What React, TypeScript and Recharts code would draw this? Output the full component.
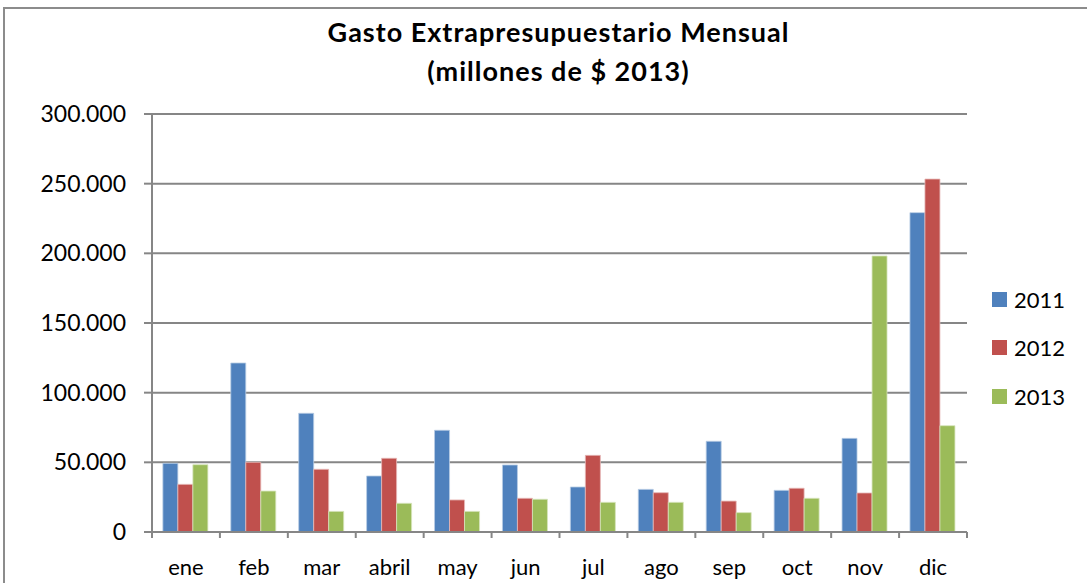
import React from "react";
import { BarChart, Bar, XAxis, YAxis, CartesianGrid } from "recharts";

const months = ["ene", "feb", "mar", "abril", "may", "jun", "jul", "ago", "sep", "oct", "nov", "dic"];
const s2011 = [49300, 121300, 85200, 40200, 73000, 48100, 32300, 30600, 65100, 29900, 67200, 229200];
const s2012 = [34200, 50000, 45000, 52900, 23000, 24200, 55000, 28200, 22200, 31400, 28000, 253300];
const s2013 = [48300, 29400, 14800, 20600, 14800, 23500, 21300, 21300, 13900, 24200, 198100, 76300];
const yTicks = [0, 50000, 100000, 150000, 200000, 250000, 300000];
const seriesNames = ["2011", "2012", "2013"];
const colors = ["#4F81BD", "#C0504D", "#9BBB59"];

const data = months.map((m, i) => ({ m, a: s2011[i], b: s2012[i], c: s2013[i] }));

const FONT = "Lato, 'Open Sans', sans-serif";
const fmt = (v: number) => (v === 0 ? "0" : v.toLocaleString("de-DE", { minimumFractionDigits: 0 }).replace(/,/g, "."));

const PLOT_LEFT = 152;
const PLOT_RIGHT = 967;
const HALF_BAND = (PLOT_RIGHT - PLOT_LEFT) / months.length / 2;

const XTick = (props: any) => {
  const { x, y, payload, index } = props;
  const isLast = index === months.length - 1;
  return (
    <g>
      <line x1={x - HALF_BAND} x2={x - HALF_BAND} y1={y - 8} y2={y - 2} stroke="#868686" strokeWidth={2} />
      {isLast && (
        <line x1={x + HALF_BAND} x2={x + HALF_BAND} y1={y - 8} y2={y - 2} stroke="#868686" strokeWidth={2} />
      )}
      <text x={x} y={y + 35} textAnchor="middle" fontFamily={FONT} fontSize={22} fill="#000">
        {payload.value}
      </text>
    </g>
  );
};

export default function App() {
  return (
    <div style={{ position: "absolute", left: 0, top: 0, width: 1087, height: 583, background: "#fff", overflow: "hidden" }}>
      <div
        style={{
          position: "absolute",
          left: 3,
          top: 7,
          width: 1200,
          height: 700,
          border: "2px solid #8c8c8c",
          boxSizing: "border-box",
        }}
      />
      <div
        style={{
          position: "absolute",
          left: 0,
          top: 12,
          width: 1117,
          textAlign: "center",
          fontFamily: FONT,
          fontWeight: 700,
          fontSize: 27,
          letterSpacing: 1,
          lineHeight: "39px",
          color: "#000",
        }}
      >
        Gasto Extrapresupuestario Mensual
        <br />
        (millones de $ 2013)
      </div>
      <div style={{ position: "absolute", left: 0, top: 0 }}>
        <BarChart
          width={1087}
          height={583}
          data={data}
          margin={{ top: 114, right: 120, bottom: 0, left: 0 }}
          barCategoryGap="16%"
          barGap={0}
        >
          <CartesianGrid vertical={false} stroke="#868686" strokeWidth={2} />
          <XAxis
            dataKey="m"
            axisLine={{ stroke: "#868686", strokeWidth: 2 }}
            tickLine={false}
            tick={<XTick />}
            interval={0}
            height={51}
          />
          <YAxis
            width={152}
            domain={[0, 300000]}
            ticks={yTicks}
            tickFormatter={fmt}
            axisLine={{ stroke: "#868686", strokeWidth: 2 }}
            tickLine={{ stroke: "#868686", strokeWidth: 2 }}
            tickSize={8}
            tickMargin={18}
            tick={{ fontFamily: FONT, fontSize: 23, fill: "#000" }}
            interval={0}
          />
          <Bar dataKey="a" name={seriesNames[0]} fill={colors[0]} stroke="#b9cde5" strokeWidth={0.8} isAnimationActive={false} />
          <Bar dataKey="b" name={seriesNames[1]} fill={colors[1]} stroke="#e6b9b8" strokeWidth={0.8} isAnimationActive={false} />
          <Bar dataKey="c" name={seriesNames[2]} fill={colors[2]} stroke="#d7e4bd" strokeWidth={0.8} isAnimationActive={false} />
        </BarChart>
      </div>
      <div style={{ position: "absolute", left: 992, top: 275, fontFamily: FONT, fontSize: 22, color: "#000" }}>
        {seriesNames.map((n, i) => (
          <div key={n} style={{ display: "flex", alignItems: "center", height: 48.5 }}>
            <span style={{ display: "inline-block", width: 15, height: 15, background: colors[i], marginRight: 7 }} />
            <span>{n}</span>
          </div>
        ))}
      </div>
    </div>
  );
}
